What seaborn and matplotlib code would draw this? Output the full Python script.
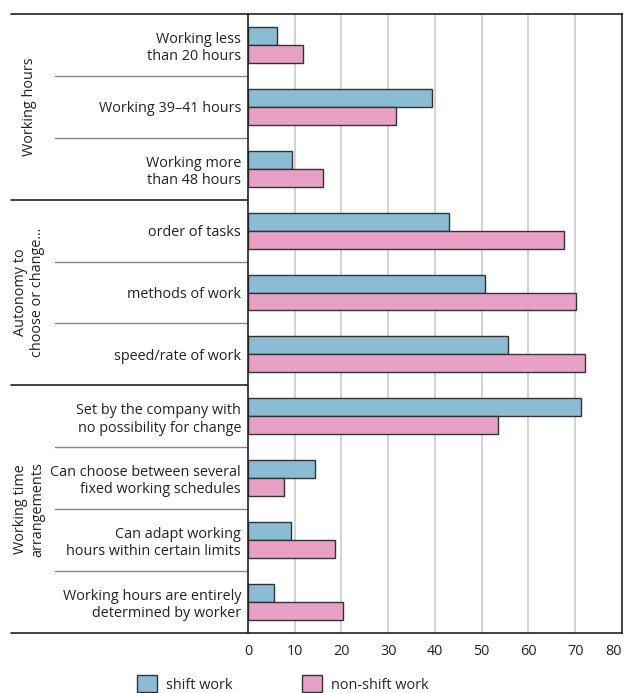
"""Shift work vs non-shift work: working hours, autonomy and time arrangements."""
import matplotlib

matplotlib.use("Agg")
import matplotlib.pyplot as plt
import matplotlib.transforms as mtransforms
from matplotlib.patches import Patch
import pandas as pd
import seaborn as sns

# Data.
categories = [
    "Working less\nthan 20 hours",
    "Working 39–41 hours",
    "Working more\nthan 48 hours",
    "order of tasks",
    "methods of work",
    "speed/rate of work",
    "Set by the company with\nno possibility for change",
    "Can choose between several\nfixed working schedules",
    "Can adapt working\nhours within certain limits",
    "Working hours are entirely\ndetermined by worker",
]
shift_work = [6.3, 39.3, 9.5, 42.9, 50.7, 55.6, 71.2, 14.3, 9.3, 5.5]
non_shift_work = [11.7, 31.7, 16.0, 67.7, 70.2, 72.1, 53.4, 7.8, 18.6, 20.4]
series_names = ["shift work", "non-shift work"]
group_labels = ["Working hours", "Autonomy to\nchoose or change...", "Working time\narrangements"]
group_sizes = [3, 3, 4]
x_ticks = [0, 10, 20, 30, 40, 50, 60, 70, 80]

colors = ["#8abdd3", "#e8a0c4"]
font_size = 10.4

# Build long-form table for seaborn.
plot_df = pd.DataFrame(
    {
        "category": categories * 2,
        "value": shift_work + non_shift_work,
        "series": [series_names[0]] * len(categories) + [series_names[1]] * len(categories),
    }
)

sns.set_style("white")
plt.rcParams["font.family"] = ["Open Sans", "DejaVu Sans"]
plt.rcParams["font.size"] = font_size

fig = plt.figure(figsize=(6.27, 6.93), dpi=100)
ax = fig.add_axes([0.3955, 0.0866, 0.5965, 0.8932])

sns.barplot(
    data=plot_df,
    x="value",
    y="category",
    hue="series",
    hue_order=series_names,
    palette=colors,
    saturation=1,
    orient="h",
    width=0.58,
    edgecolor="#333333",
    linewidth=1.0,
    legend=False,
    ax=ax,
)

# Axes appearance.
ax.set_xlim(0, 80)
ax.set_ylim(len(categories) - 0.5, -0.5)
ax.set_xticks(x_ticks)
ax.set_xlabel("")
ax.set_ylabel("")
ax.tick_params(axis="both", length=0, labelsize=font_size, colors="#222222")
ax.tick_params(axis="x", pad=8)
ax.tick_params(axis="y", pad=5)
ax.set_yticklabels(categories, ha="right", linespacing=1.2)
ax.get_xticklabels()[-1].set_horizontalalignment("right")
for x in x_ticks[1:-1]:
    ax.axvline(x, color="#cccccc", lw=1.2, zorder=0)
for spine in ax.spines.values():
    spine.set_color("#222222")
    spine.set_linewidth(1.2)
    spine.set_visible(True)

# Separator lines extending into the label area.
trans = mtransforms.blended_transform_factory(ax.transAxes, ax.transData)
full_left = -0.634
short_left = -0.516
boundaries = []
pos = 0
for size in group_sizes:
    pos += size
    boundaries.append(pos - 0.5)
for i in range(len(categories) + 1):
    y = i - 0.5
    if i == 0 or y in boundaries:
        ax.plot([full_left, 0], [y, y], transform=trans, color="#222222", lw=1.2, clip_on=False)
    else:
        ax.plot([short_left, 0], [y, y], transform=trans, color="#888888", lw=1.0, clip_on=False)

# Group labels, rotated.
start = -0.5
for label, size in zip(group_labels, group_sizes):
    center = start + size / 2
    ax.text(
        -0.585, center, label, transform=trans, rotation=90,
        ha="center", va="center", fontsize=font_size, color="#222222", linespacing=1.15,
    )
    start += size

# Legend below the plot.
handles = [Patch(facecolor=c, edgecolor="#333333", lw=1.0) for c in colors]
fig.legend(
    handles,
    series_names,
    loc="center",
    bbox_to_anchor=(0.451, 0.013),
    ncol=2,
    frameon=False,
    fontsize=font_size,
    handlelength=1.4,
    handleheight=1.4,
    columnspacing=4.8,
    handletextpad=0.6,
    borderpad=0,
)

fig.savefig("out.png", dpi=100)
